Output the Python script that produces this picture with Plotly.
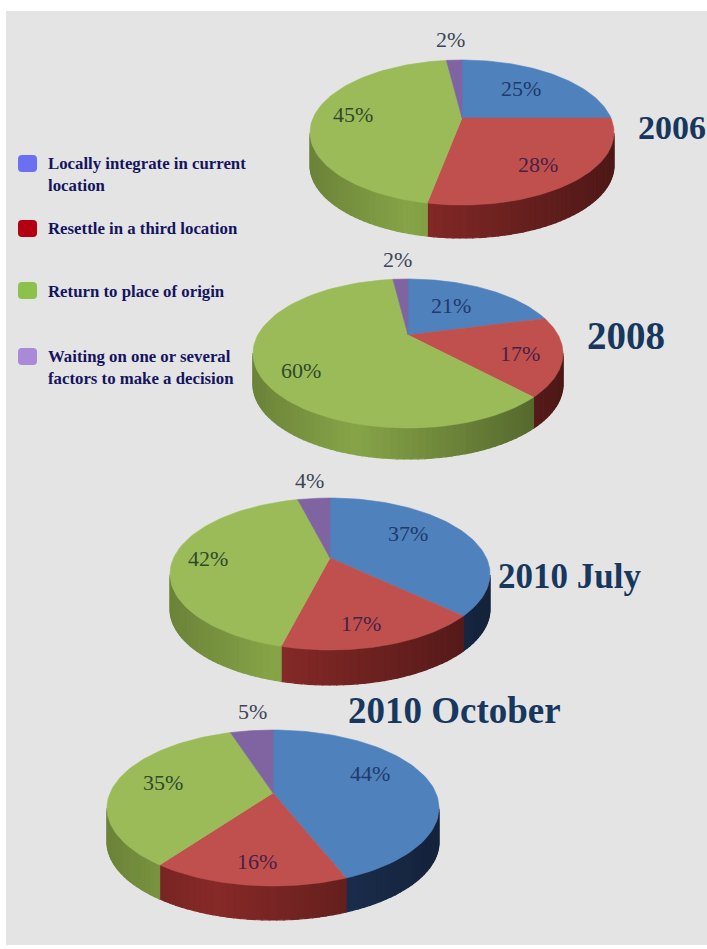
import numpy as np
import plotly.graph_objects as go

# ---------- data ----------
categories = ["Locally integrate in current location", "Resettle in a third location",
              "Return to place of origin", "Waiting on one or several factors to make a decision"]
years = ["2006", "2008", "2010 July", "2010 October"]
values_2006 = [25, 28, 45, 2]
values_2008 = [21, 17, 60, 2]
values_2010_july = [37, 17, 42, 4]
values_2010_october = [44, 16, 35, 5]
all_values = [values_2006, values_2008, values_2010_july, values_2010_october]

# ---------- layout and style ----------
W, H = 707, 949
TOP = ["#4f81bd", "#c0504d", "#9bbb59", "#8064a2"]
WALL = [(36, 60, 102), (135, 42, 40), (135, 165, 72), (90, 70, 120)]
SWATCH = ["#6b6ff2", "#b30012", "#8cc24c", "#a98ad8"]
# apex x, apex y, half width, top rim y, bottom rim y, wall depth
PIES = [(462, 118, 152, 60, 205, 33),
        (408, 335, 155, 279, 428, 31),
        (330, 558, 160, 498, 650, 35),
        (273, 793, 166, 730, 886, 34)]
# label pixel anchors, one per slice
LABELS = [[(521, 88), (538, 164), (353, 114), (450, 39)],
          [(451, 305), (520, 353), (301, 370), (397, 259)],
          [(408, 533), (361, 623), (208, 558), (309, 480)],
          [(370, 773), (257, 861), (163, 782), (252, 711)]]
LABEL_COL = ["#1f3a6b", "#4a1f45", "#2f4a2a", "#3d4658"]
TITLES = [(672, 127), (626, 335), (569, 576), (454, 710)]
TITLE_SIZE = [34, 39, 35, 37]
LEGEND_Y = [155, 220, 282, 348]
LEGEND_LINES = [[("Locally integrate in current", 163), ("location", 185)],
                [("Resettle in a third location", 228)],
                [("Return to place of origin", 291)],
                [("Waiting on one or several", 356), ("factors to make a decision", 378)]]

fig = go.Figure()


def rim(theta, pie):
    ax, ay, hw, top, bot, _ = pie
    up, dn = ay - top, bot - ay
    k = (dn - up) / (dn + up)
    b = up * (1 + k)
    a = hw * np.sqrt(1 - k * k)
    u, v = np.sin(theta), np.cos(theta)
    w = 1 + k * v
    return ax + a * u / w, ay - b * v / w


def poly(xs, ys, color, lw=1.2):
    fig.add_trace(go.Scatter(x=xs, y=ys, mode="lines", fill="toself", fillcolor=color,
                             line=dict(color=color, width=lw), hoverinfo="skip",
                             showlegend=False))


for vals, pie in zip(all_values, PIES):
    edges = np.cumsum([0] + vals) / sum(vals) * 2 * np.pi
    depth = pie[5]
    hw = pie[2]
    # side wall strips
    for i in range(4):
        n = max(2, int((edges[i + 1] - edges[i]) / 0.035))
        th = np.linspace(edges[i], edges[i + 1], n + 1)
        xs, ys = rim(th, pie)
        for j in range(n):
            if xs[j + 1] >= xs[j]:
                continue
            u = (0.5 * (xs[j] + xs[j + 1]) - pie[0]) / hw
            f = 1 - 0.42 * abs(u + 0.35) / 1.35
            col = "rgb(%d,%d,%d)" % tuple(int(c * f) for c in WALL[i])
            poly([xs[j], xs[j + 1], xs[j + 1], xs[j], xs[j]],
                 [ys[j], ys[j + 1], ys[j + 1] + depth, ys[j] + depth, ys[j]], col)
    # top faces
    for i in range(4):
        th = np.linspace(edges[i], edges[i + 1], 80)
        xs, ys = rim(th, pie)
        poly(np.r_[pie[0], xs, pie[0]], np.r_[pie[1], ys, pie[1]], TOP[i], 0.6)

ann = []
for vals, pts in zip(all_values, LABELS):
    for i, (v, p) in enumerate(zip(vals, pts)):
        ann.append(dict(x=p[0], y=p[1], text=f"{v}%", showarrow=False, xref="x", yref="y",
                        font=dict(family="Liberation Serif", size=22, color=LABEL_COL[i])))
for t, p, s in zip(years, TITLES, TITLE_SIZE):
    ann.append(dict(x=p[0], y=p[1], text=f"<b>{t}</b>", showarrow=False, xref="x", yref="y",
                    font=dict(family="Liberation Serif", size=s, color="#17375e")))
for lines in LEGEND_LINES:
    for text, y in lines:
        ann.append(dict(x=46, y=y, text=f"<b>{text}</b>", showarrow=False, xref="x", yref="y",
                        xanchor="left",
                        font=dict(family="Liberation Serif", size=16.8, color="#14145f")))

shapes = [dict(type="rect", layer="below", x0=6, x1=W, y0=11, y1=945,
               fillcolor="#e4e4e4", line_width=0)]
for y, c in zip(LEGEND_Y, SWATCH):
    x0, x1, y0, y1, r = 18, 37, y, y + 17, 4
    shapes.append(dict(type="path", layer="below", fillcolor=c, line_width=0,
                       path=f"M{x0+r},{y0} L{x1-r},{y0} Q{x1},{y0} {x1},{y0+r} L{x1},{y1-r} "
                            f"Q{x1},{y1} {x1-r},{y1} L{x0+r},{y1} Q{x0},{y1} {x0},{y1-r} "
                            f"L{x0},{y0+r} Q{x0},{y0} {x0+r},{y0} Z"))

fig.update_layout(width=W, height=H, margin=dict(l=0, r=0, t=0, b=0),
                  paper_bgcolor="white", plot_bgcolor="white", showlegend=False,
                  xaxis=dict(range=[0, W], visible=False, fixedrange=True),
                  yaxis=dict(range=[H, 0], visible=False, fixedrange=True),
                  annotations=ann, shapes=shapes, hovermode=False)
fig.write_html("out.html", config=dict(displayModeBar=False),
               post_script="document.body.style.margin='0';document.documentElement.style.overflow='hidden';")
